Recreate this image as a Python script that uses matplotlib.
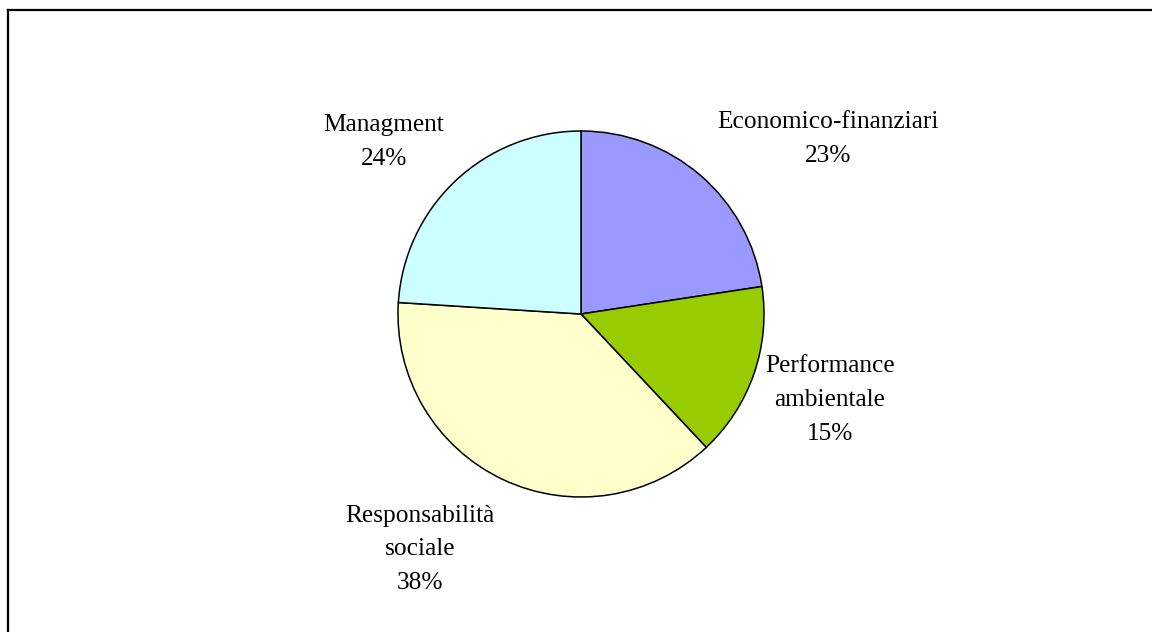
import matplotlib.pyplot as plt
from matplotlib.lines import Line2D

# quote per categoria di indicatori
categorie = ['Economico-finanziari', 'Performance\nambientale', 'Responsabilità\nsociale', 'Managment']
valori = [22.6, 15.4, 38.0, 24.0]
colori = ['#9999FF', '#99CC00', '#FFFFCC', '#CCFFFF']

# posizione delle etichette (coordinate dati, raggio = 1)
pos_etichette = [(1.35, 0.955), (1.36, -0.47), (-0.88, -1.285), (-1.077, 0.94)]

plt.rcParams['font.family'] = ['Liberation Serif', 'DejaVu Serif']

fig = plt.figure(figsize=(11.52, 6.32), dpi=100)
fig.patch.set_facecolor('white')

W, H = 1152, 632
cx, cy, r = 581, 314, 183
ax = fig.add_axes([(cx - r) / W, (H - cy - r) / H, 2 * r / W, 2 * r / H])

ax.pie(valori, colors=colori, startangle=90, counterclock=False,
       wedgeprops=dict(edgecolor='black', linewidth=1.1), radius=1)
ax.set_xlim(-1, 1)
ax.set_ylim(-1, 1)
ax.set_aspect('equal')
ax.axis('off')

tot = sum(valori)
for nome, v, (x, y) in zip(categorie, valori, pos_etichette):
    ax.text(x, y, f'{nome}\n{round(100 * v / tot)}%', ha='center', va='center',
            fontsize=18.3, linespacing=1.68, color='black')

# bordo dell'area del grafico
fig.add_artist(Line2D([8 / W, 8 / W], [0, 1 - 10 / H], color='black', lw=1.6))
fig.add_artist(Line2D([8 / W, 1], [1 - 10 / H, 1 - 10 / H], color='black', lw=1.6))

fig.savefig('out.png', dpi=100)
